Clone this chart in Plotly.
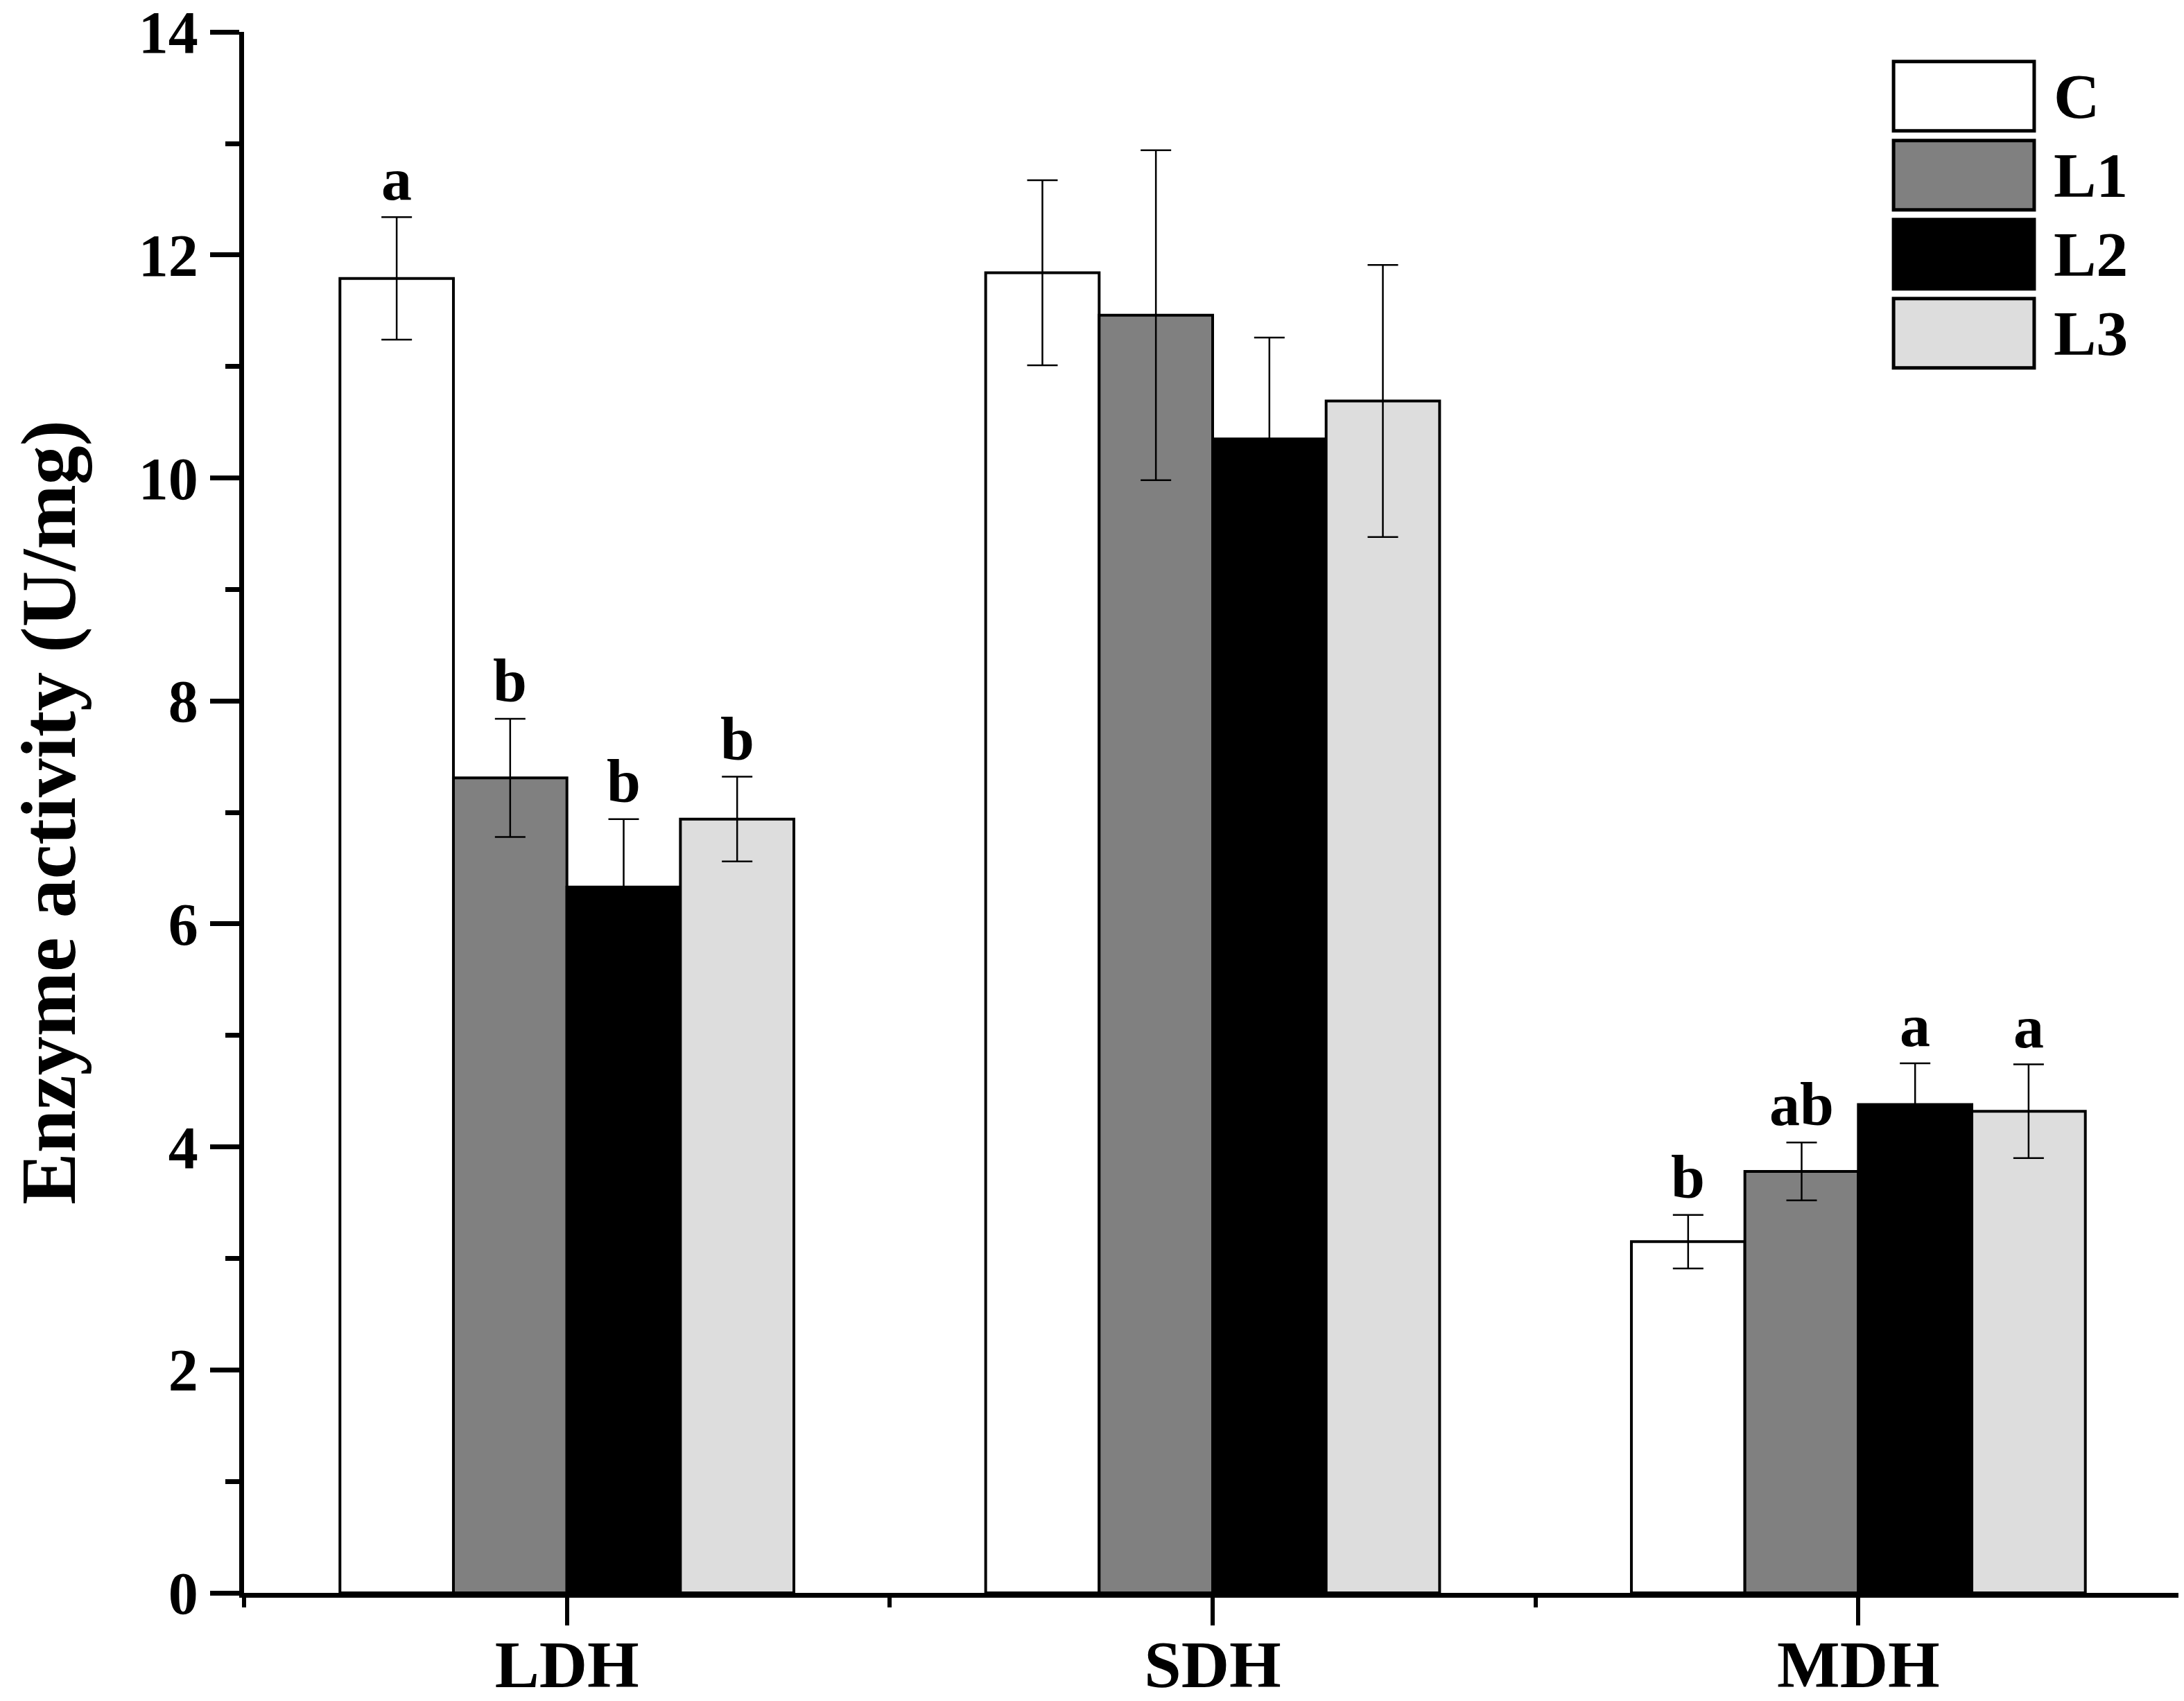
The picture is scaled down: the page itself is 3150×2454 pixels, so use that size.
import plotly.graph_objects as go

# enzyme activity data
enzymes = ["LDH", "SDH", "MDH"]
groups = ["C", "L1", "L2", "L3"]
colors = ["#ffffff", "#808080", "#000000", "#dddddd"]

c_mean = [11.79, 11.84, 3.15]
c_err = [0.55, 0.83, 0.24]
l1_mean = [7.31, 11.46, 3.78]
l1_err = [0.53, 1.48, 0.26]
l2_mean = [6.33, 10.35, 4.38]
l2_err = [0.61, 0.91, 0.37]
l3_mean = [6.94, 10.69, 4.32]
l3_err = [0.38, 1.22, 0.42]

c_letters = ["a", "", "b"]
l1_letters = ["b", "", "ab"]
l2_letters = ["b", "", "a"]
l3_letters = ["b", "", "a"]

means = [c_mean, l1_mean, l2_mean, l3_mean]
errs = [c_err, l1_err, l2_err, l3_err]
letters = [c_letters, l1_letters, l2_letters, l3_letters]

font = "Liberation Serif"
bargap = 0.297

fig = go.Figure()
for i in range(len(groups)):
    fig.add_trace(go.Bar(
        x=enzymes, y=means[i], name=groups[i],
        marker=dict(color=colors[i], line=dict(color="black", width=4)),
        error_y=dict(type="data", array=errs[i], color="black", thickness=2.5, width=22),
        showlegend=False,
    ))

# dummy trace so the boundary-tick axis gets drawn
fig.add_trace(go.Scatter(x=[], y=[], xaxis="x2", showlegend=False, hoverinfo="skip"))

# significance letters above error bars
bw = (1 - bargap) / len(groups)
anns = []
for i in range(len(groups)):
    off = -(1 - bargap) / 2 + bw * (i + 0.5)
    for j in range(len(enzymes)):
        if letters[i][j]:
            anns.append(dict(x=j + off, y=means[i][j] + errs[i][j], xref="x", yref="y",
                             text=letters[i][j], showarrow=False,
                             yanchor="bottom", yshift=4,
                             font=dict(family=font, size=88, color="black", weight="bold")))

# legend drawn by hand (big boxes)
shapes = []
top0 = 0.981
h = 0.0444
step = 0.0506
for i in range(len(groups)):
    y1 = top0 - i * step
    shapes.append(dict(type="rect", xref="paper", yref="paper", x0=0.8515, x1=0.9241,
                       y0=y1 - h, y1=y1, fillcolor=colors[i],
                       line=dict(color="black", width=5)))
    anns.append(dict(x=0.9334, y=y1 - h / 2, xref="paper", yref="paper",
                     text=groups[i], showarrow=False,
                     xanchor="left", yanchor="middle",
                     font=dict(family=font, size=92, color="black", weight="bold")))

fig.update_layout(
    width=3150, height=2454,
    margin=dict(l=344, r=12, t=38, b=164, autoexpand=False),
    plot_bgcolor="white", paper_bgcolor="white",
    barmode="group", bargap=bargap, bargroupgap=0,
    font=dict(family=font, color="black"),
    shapes=shapes, annotations=anns,
    xaxis=dict(type="category", range=[-0.5, 2.5], showline=True, linewidth=7, linecolor="black",
               ticks="outside", ticklen=40, tickwidth=6, tickcolor="black", showgrid=False,
               automargin=False, ticklabelstandoff=-26, ticklabeloverflow="allow",
               tickfont=dict(family=font, size=96, weight="bold")),
    xaxis2=dict(overlaying="x", anchor="y", side="bottom", range=[-0.5, 2.5],
                tickvals=[-0.5, 0.5, 1.5, 2.5], ticks="outside", ticklen=20, tickwidth=6,
                tickcolor="black", showticklabels=False, showgrid=False, showline=False,
                zeroline=False, automargin=False),
    yaxis=dict(range=[0, 14.001], tickvals=[0, 2, 4, 6, 8, 10, 12, 14],
               showline=True, linewidth=7, linecolor="black",
               ticks="outside", ticklen=42, tickwidth=7, tickcolor="black",
               showgrid=False, zeroline=False, automargin=False, ticklabeloverflow="allow",
               minor=dict(dtick=1, ticks="outside", ticklen=20, tickwidth=7, tickcolor="black"),
               tickfont=dict(family=font, size=86, weight="bold"),
               title=dict(text="Enzyme activity (U/mg)", standoff=90,
                          font=dict(family=font, size=112, weight="bold"))),
)

fig.write_html("out.html")
